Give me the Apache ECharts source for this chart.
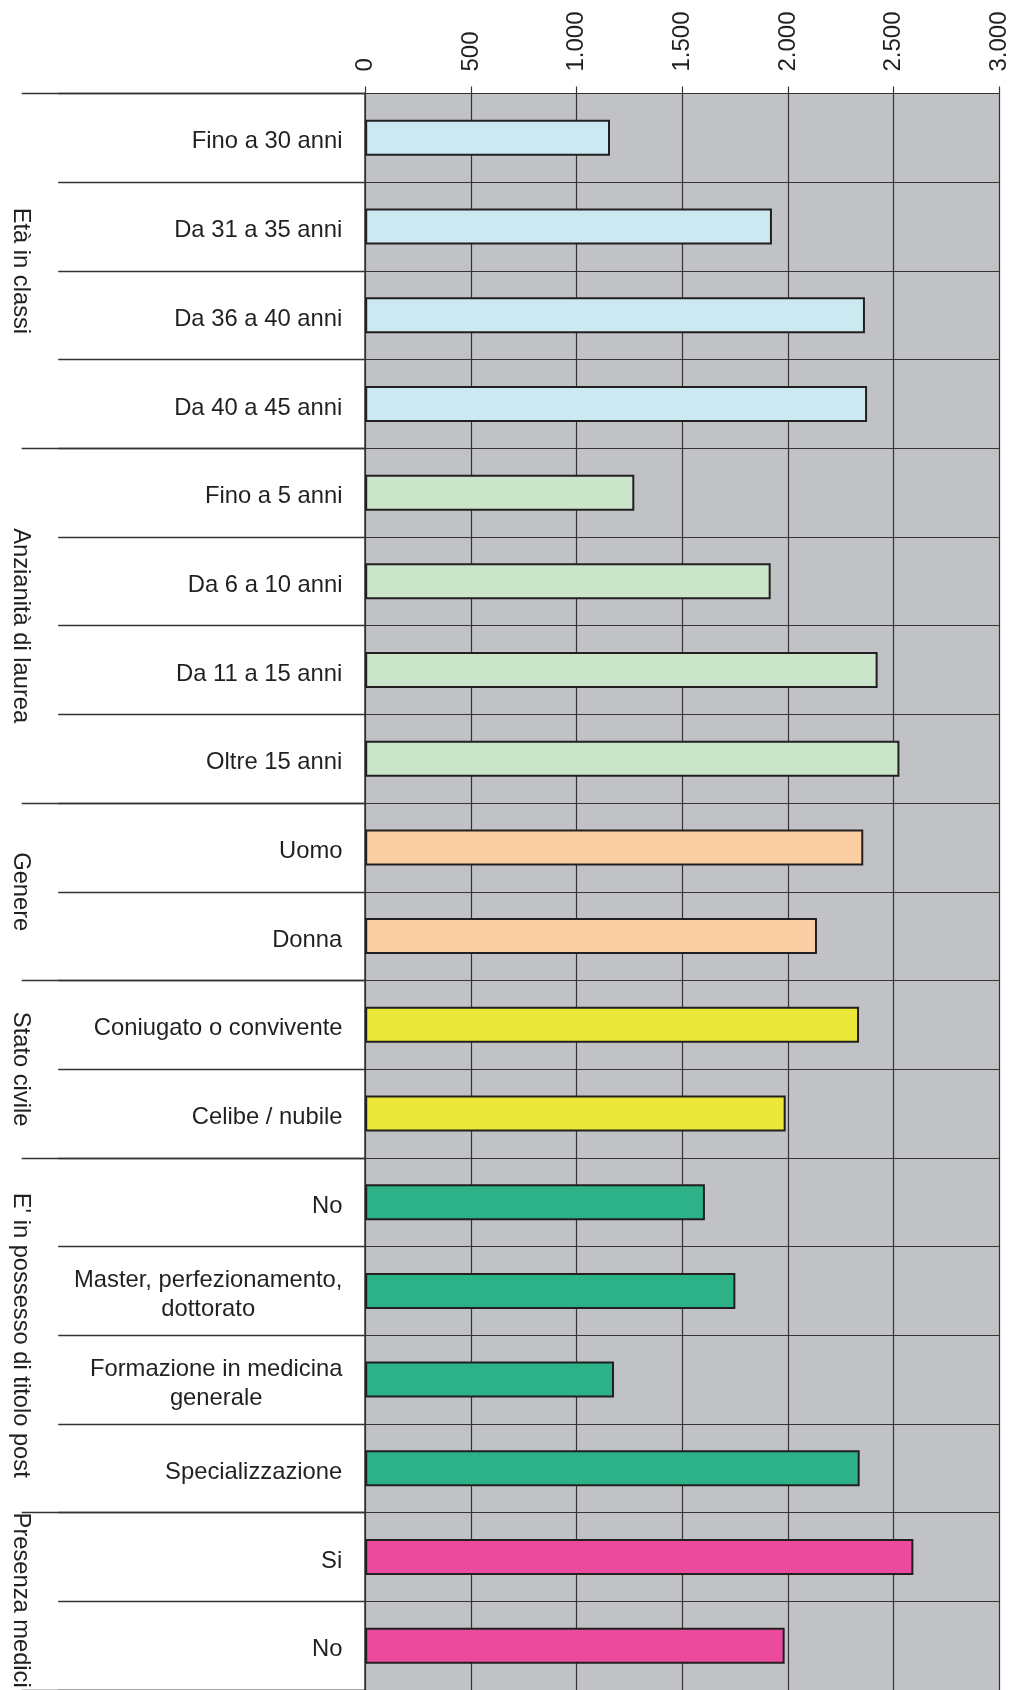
<!DOCTYPE html>
<html>
<head>
<meta charset="utf-8">
<script src="https://cdn.jsdelivr.net/npm/echarts@6/dist/echarts.min.js"></script>
<style>
  html, body { margin: 0; padding: 0; background: #ffffff; overflow: hidden; }
  #chart { width: 1013px; height: 1690px; }
</style>
</head>
<body>
<div id="chart"></div>
<script>
// ---- DATA ----
const groupNames = ["Età in classi", "Anzianità di laurea", "Genere", "Stato civile", "E' in possesso di titolo post", "Presenza medici"];
const groupSizes = [4, 4, 2, 2, 4, 2];
const categories = [
  "Fino a 30 anni", "Da 31 a 35 anni", "Da 36 a 40 anni", "Da 40 a 45 anni",
  "Fino a 5 anni", "Da 6 a 10 anni", "Da 11 a 15 anni", "Oltre 15 anni",
  "Uomo", "Donna",
  "Coniugato o convivente", "Celibe / nubile",
  "No", "Master, perfezionamento,\ndottorato", "Formazione in medicina\ngenerale", "Specializzazione",
  "Si", "No"
];
const values = [
  1158, 1924, 2364, 2374,
  1273, 1918, 2424, 2527,
  2356, 2137,
  2336, 1989,
  1607, 1751, 1177, 2339,
  2593, 1984
];
const xTicks = [0, 500, 1000, 1500, 2000, 2500, 3000];
const xTickLabels = ["0", "500", "1.000", "1.500", "2.000", "2.500", "3.000"];

// ---- STYLE ----
const groupColors = ["#cce9f1", "#cbe5cb", "#fbcfa3", "#ece83a", "#2db187", "#ec4b9d"];
const FONT = "'Liberation Sans', Arial, Helvetica, sans-serif";
const TEXT = "#231f20";
const LINE = "#333333";
const CAT_FS = 23.8;
const GRP_FS = 23.7;
const TICK_FS = 24;

// group index per category, group start indices
const groupOf = [];
const groupStarts = new Set();
let idx = 0;
groupSizes.forEach(function (n, g) {
  groupStarts.add(idx);
  for (let k = 0; k < n; k++) { groupOf.push(g); idx++; }
});

// measure text for centered multi-line labels
const mctx = document.createElement('canvas').getContext('2d');
mctx.font = CAT_FS + "px " + FONT;
const rich = {};
categories.forEach(function (c, i) {
  const lines = c.split('\n');
  let w = 0;
  lines.forEach(function (l) { w = Math.max(w, mctx.measureText(l).width); });
  rich['c' + i] = {
    width: Math.ceil(w) + 1, align: 'center', fontSize: CAT_FS, lineHeight: 29,
    color: TEXT, fontFamily: FONT
  };
});

const chart = echarts.init(document.getElementById('chart'), null, { renderer: 'canvas' });

const option = {
  animation: false,
  backgroundColor: '#ffffff',
  grid: {
    left: 365.2, right: 13.6, top: 93.5, bottom: -3,
    show: true, backgroundColor: '#c1c2c6', borderWidth: 0
  },
  xAxis: {
    type: 'value', position: 'top', min: 0, max: 3000, interval: 500,
    axisLine: { show: true, lineStyle: { color: LINE, width: 1.2 } },
    axisTick: { show: true, length: 7, lineStyle: { color: LINE, width: 1.2 } },
    axisLabel: {
      rotate: -90, margin: 22, fontSize: TICK_FS, color: TEXT, fontFamily: FONT,
      formatter: function (v) { const i = xTicks.indexOf(v); return i >= 0 ? xTickLabels[i] : ''; }
    },
    splitLine: { show: true, lineStyle: { color: LINE, width: 1.2 } }
  },
  yAxis: [
    {
      type: 'category', data: categories, inverse: true, position: 'left',
      axisLine: { show: true, onZero: false, lineStyle: { color: LINE, width: 1.5 } },
      axisTick: { show: true, interval: 0, length: 307, lineStyle: { color: LINE, width: 1.3 } },
      axisLabel: {
        interval: 0, margin: 22, fontSize: CAT_FS, color: TEXT, fontFamily: FONT, align: 'right',
        padding: [8, 0, 0, 0],
        formatter: function (v, i) {
          return v.split('\n').map(function (l) { return '{c' + i + '|' + l + '}'; }).join('\n');
        },
        rich: rich
      },
      splitLine: { show: true, interval: 0, lineStyle: { color: LINE, width: 1.2 } }
    },
    {
      type: 'category', data: categories, inverse: true, position: 'left',
      axisLine: { show: false },
      axisTick: {
        show: true, length: 343.5,
        interval: function (i) { return groupStarts.has(i); },
        lineStyle: { color: LINE, width: 1.3 }
      },
      axisLabel: { show: false },
      splitLine: { show: false }
    }
  ],
  series: [{
    type: 'bar',
    yAxisIndex: 0,
    barWidth: 36,
    data: values.map(function (v, i) {
      return { value: v, itemStyle: { color: groupColors[groupOf[i]], borderColor: '#231f20', borderWidth: 2 } };
    })
  }]
};
chart.setOption(option);

// group labels on the far left, positioned through the category scale
const c0 = chart.convertToPixel({ yAxisIndex: 0 }, 0);
const c1 = chart.convertToPixel({ yAxisIndex: 0 }, 1);
const band = c1 - c0;
const graphics = [];
let start = 0;
groupSizes.forEach(function (n, g) {
  const first = chart.convertToPixel({ yAxisIndex: 0 }, start);
  const last = chart.convertToPixel({ yAxisIndex: 0 }, start + n - 1);
  const isLast = (g === groupSizes.length - 1);
  const y = isLast ? first - band / 2 : (first + last) / 2;
  graphics.push({
    type: 'text', x: 21, y: y, rotation: -Math.PI / 2,
    style: {
      text: groupNames[g], fontSize: GRP_FS, fontFamily: FONT, fill: TEXT,
      align: isLast ? 'left' : 'center', verticalAlign: 'middle'
    }
  });
  start += n;
});
chart.setOption({ graphic: graphics });
</script>
</body>
</html>
